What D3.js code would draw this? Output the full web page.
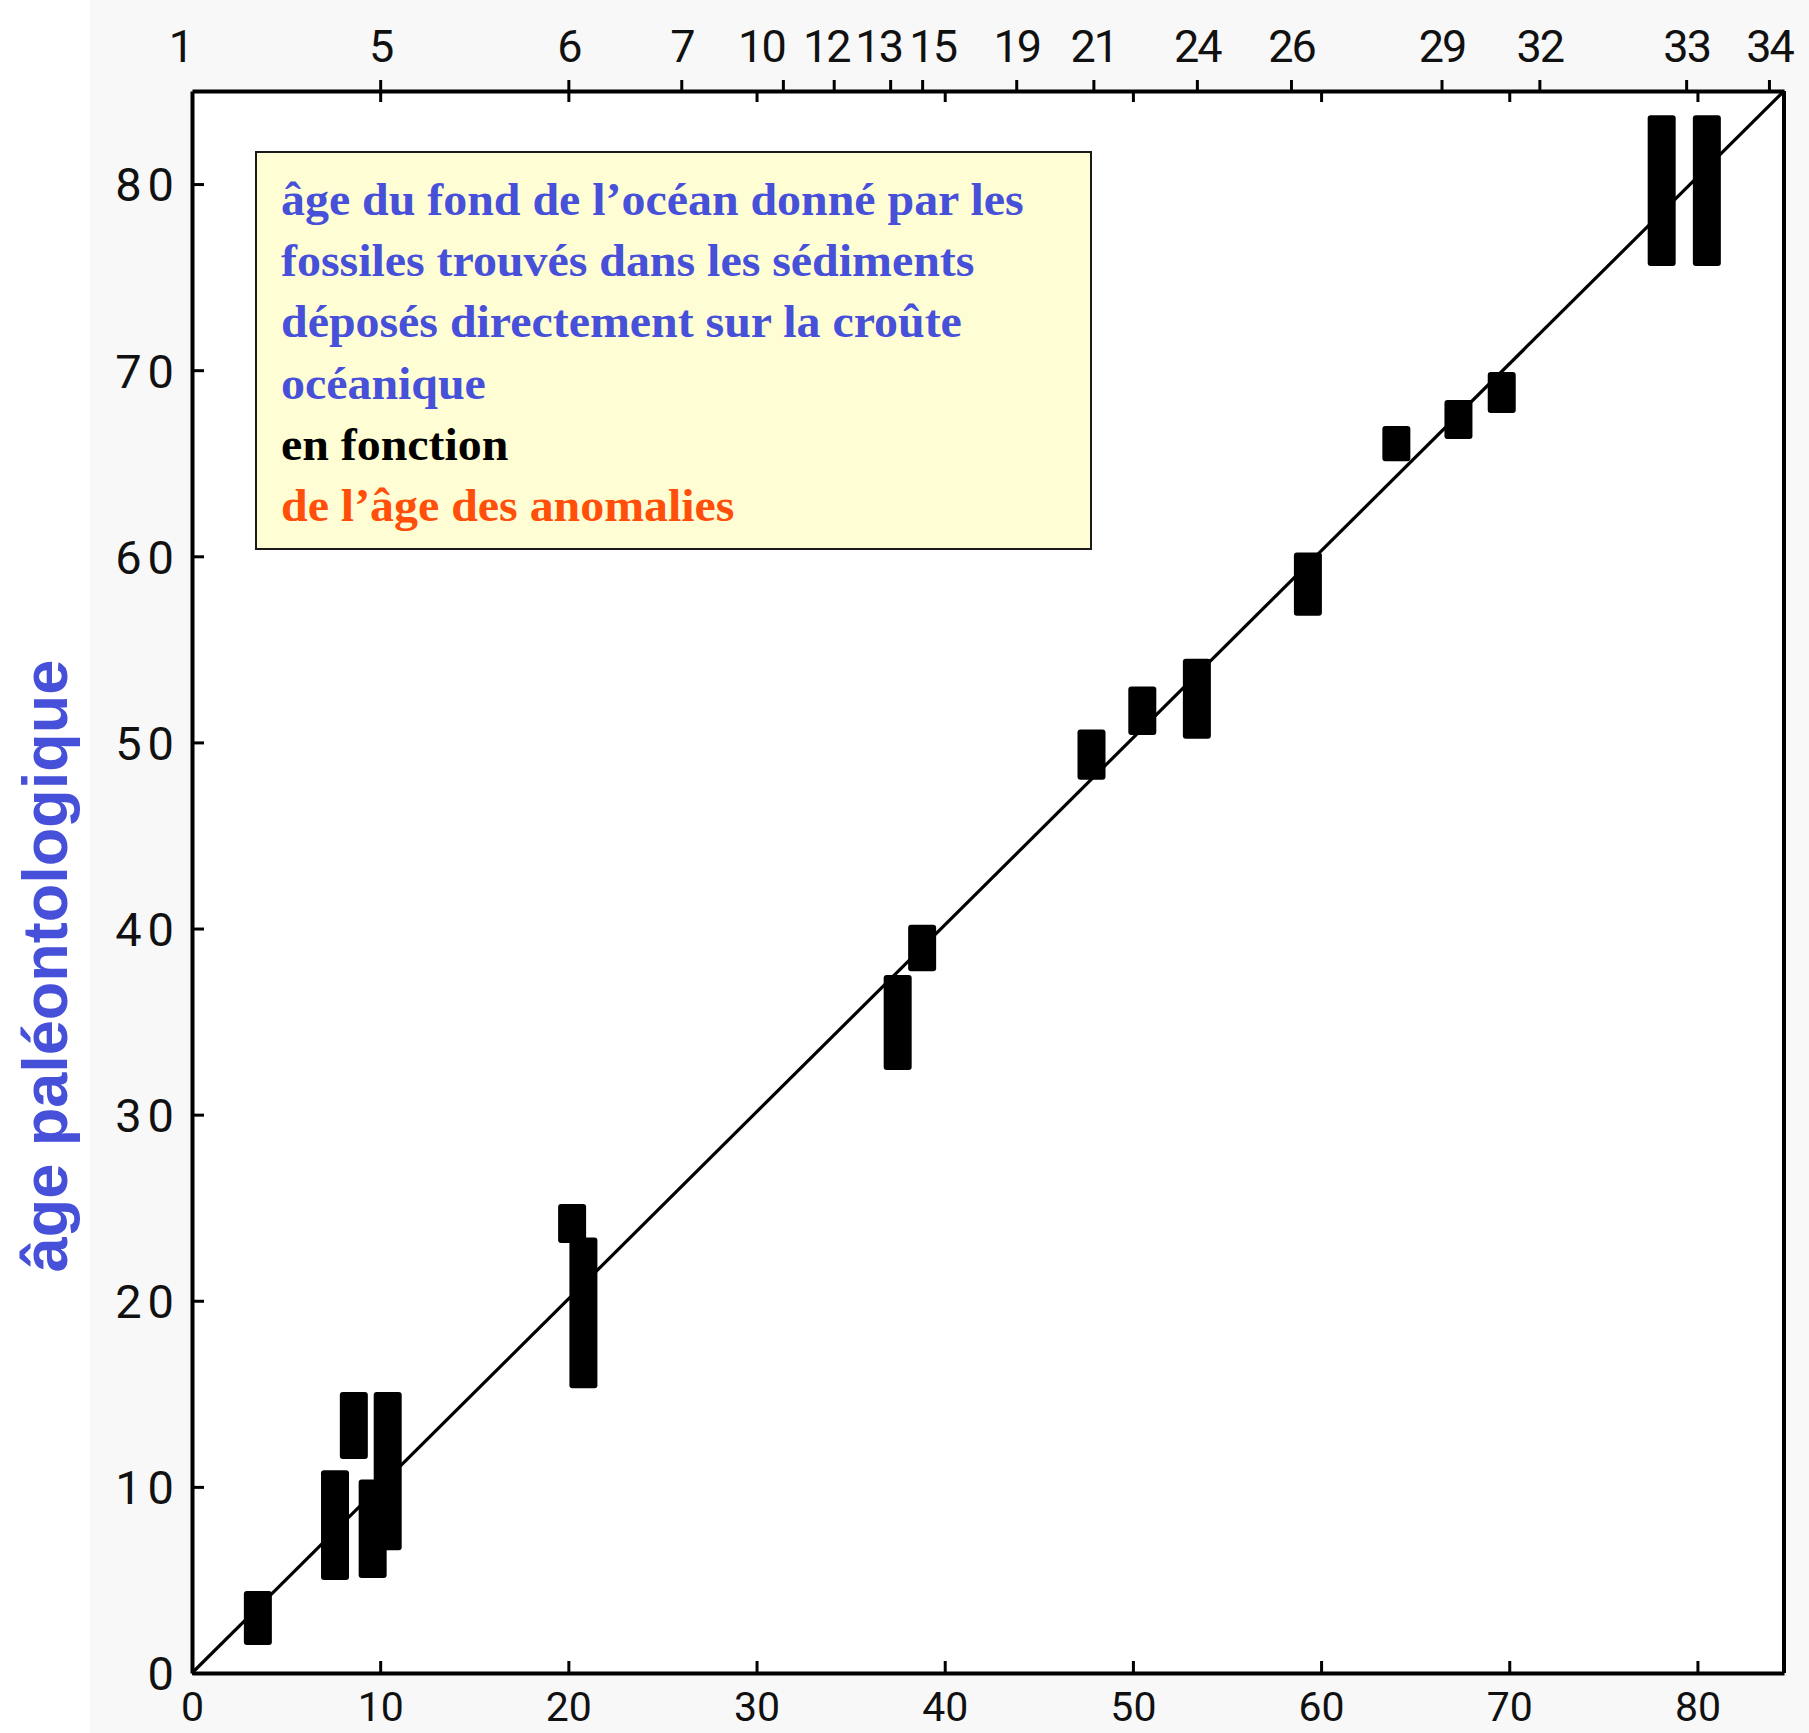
<!DOCTYPE html>
<html>
<head>
<meta charset="utf-8">
<script src="https://cdn.jsdelivr.net/npm/d3@7"></script>
<style>
  body { margin: 0; background: #fff; }
  .tick text { font-family: Roboto, "DejaVu Sans", sans-serif; fill: #111; }
</style>
</head>
<body>
<div id="chart"></div>
<script>
// magnetic anomaly numbers and their ages (Ma), top axis
var anomalyNames = ["1","5","6","7","10","12","13","15","19","21","24","26","29","32","33","34"];
var anomalyAges  = [0, 10, 20, 26, 31.4, 34.1, 37.1, 38.8, 43.8, 47.9, 53.4, 58.4, 66.4, 71.6, 79.4, 83.8];

// one entry per sample: age of the anomaly (x) and fossil age range (y low..high)
var sampleAge  = [3.5, 7.6, 8.6, 9.6, 10.4, 20.2, 20.8, 37.5, 38.8, 47.8, 50.5, 53.4, 59.3, 64.0, 67.3, 69.6, 78.1, 80.5];
var fossilLow  = [1.5, 5.0, 11.5, 5.1, 6.6, 23.1, 15.3, 32.4, 37.7, 48.0, 50.4, 50.2, 56.8, 65.1, 66.3, 67.7, 75.6, 75.6];
var fossilHigh = [4.4, 10.9, 15.1, 10.4, 15.1, 25.2, 23.4, 37.5, 40.2, 50.7, 53.0, 54.5, 60.2, 67.0, 68.4, 69.9, 83.7, 83.7];

var xTicks = [0, 10, 20, 30, 40, 50, 60, 70, 80];
var yTicks = [0, 10, 20, 30, 40, 50, 60, 70, 80];

// 1:1 line, corner to corner
var fitLine = [[0, 0], [84.6, 85]];

var boxLines = [
  "âge du fond de l’océan donné par les",
  "fossiles trouvés dans les sédiments",
  "déposés directement sur la croûte",
  "océanique",
  "en fonction",
  "de l’âge des anomalies"
];
var boxColors = ["#4650d8", "#4650d8", "#4650d8", "#4650d8", "#000000", "#ff4f0a"];

// small horizontal shifts of crowded top labels (px)
var topLabelShift = { "1": -12, "10": -22, "12": -8, "13": -12, "15": 10 };

var W = 1809, H = 1733;
var pL = 192, pR = 1784, pT = 91, pB = 1673;

var svg = d3.select("#chart").append("svg")
  .attr("width", W)
  .attr("height", H);

// faint scanned-paper tone
svg.append("rect")
  .attr("x", 90).attr("y", 0)
  .attr("width", W - 90).attr("height", H)
  .attr("fill", "#f8f8f8");

var x = d3.scaleLinear().domain([0, 84.6]).range([pL, pR]);
var y = d3.scaleLinear().domain([0, 85]).range([pB, pT]);

svg.append("rect")
  .attr("x", pL).attr("y", pT)
  .attr("width", pR - pL).attr("height", pB - pT)
  .attr("fill", "#fff");

// bottom axis
var gx = svg.append("g")
  .attr("transform", "translate(0," + pB + ")")
  .call(d3.axisBottom(x).tickValues(xTicks).tickSize(-12).tickSizeOuter(0).tickPadding(19));
gx.selectAll("text").style("font-size", "41px");

// left axis
var gy = svg.append("g")
  .attr("transform", "translate(" + pL + ",0)")
  .call(d3.axisLeft(y).tickValues(yTicks).tickSize(-12).tickSizeOuter(0).tickPadding(12));
gy.selectAll("text").style("font-size", "47px").style("letter-spacing", "6px").attr("dy", "0.36em");

// top axis: anomaly numbers
var gt = svg.append("g")
  .attr("transform", "translate(0," + pT + ")")
  .call(d3.axisTop(x).tickValues(anomalyAges)
    .tickFormat(function(d, i) { return anomalyNames[i]; })
    .tickSize(11).tickSizeOuter(0).tickPadding(18));
gt.selectAll("text")
  .style("font-size", "45px")
  .style("letter-spacing", "-2px")
  .attr("dx", function() { return topLabelShift[this.textContent] || 0; });
gt.selectAll(".tick").filter(function(d) { return d === 0; }).select("line").remove();

// top axis: inner ticks every 10 Ma
svg.append("g")
  .attr("transform", "translate(0," + pT + ")")
  .call(d3.axisTop(x).tickValues(xTicks.slice(1)).tickSize(-11).tickSizeOuter(0).tickFormat(""))
  .select(".domain").remove();

// right frame
svg.append("line")
  .attr("x1", pR).attr("x2", pR)
  .attr("y1", pT).attr("y2", pB)
  .attr("stroke", "#000").attr("stroke-width", 4);

svg.selectAll(".domain").attr("stroke", "#000").attr("stroke-width", 4);
svg.selectAll(".tick line").attr("stroke", "#000").attr("stroke-width", 3);

// 1:1 line
svg.append("path")
  .datum(fitLine)
  .attr("d", d3.line().x(function(d) { return x(d[0]); }).y(function(d) { return y(d[1]); }))
  .attr("stroke", "#000")
  .attr("stroke-width", 3.2)
  .attr("fill", "none");

// samples
var barW = 28;
svg.selectAll("rect.sample")
  .data(sampleAge)
  .enter()
  .append("rect")
  .attr("class", "sample")
  .attr("x", function(d) { return x(d) - barW / 2; })
  .attr("y", function(d, i) { return y(fossilHigh[i]); })
  .attr("width", barW)
  .attr("height", function(d, i) { return y(fossilLow[i]) - y(fossilHigh[i]); })
  .attr("rx", 3)
  .attr("fill", "#000");

// explanation box
svg.append("rect")
  .attr("x", 256).attr("y", 152)
  .attr("width", 835).attr("height", 397)
  .attr("fill", "#fffdd3")
  .attr("stroke", "#1a1a1a")
  .attr("stroke-width", 2);

var tg = svg.append("g");
var txt = tg.selectAll("text")
  .data(boxLines)
  .enter()
  .append("text")
  .attr("x", 0)
  .attr("y", function(d, i) { return 215 + i * 61.2; })
  .style("font-family", "'Liberation Serif', 'Times New Roman', serif")
  .style("font-weight", "bold")
  .style("font-size", "46px")
  .attr("fill", function(d, i) { return boxColors[i]; })
  .text(function(d) { return d; });
var w0 = txt.node().getComputedTextLength();
tg.attr("transform", "translate(281,0) scale(" + (743 / w0) + ",1)");

// y label
svg.append("text")
  .attr("transform", "translate(67,966) rotate(-90)")
  .attr("text-anchor", "middle")
  .style("font-family", "'Liberation Sans', Arial, sans-serif")
  .style("font-weight", "bold")
  .style("font-size", "63px")
  .attr("fill", "#4650d8")
  .text("âge paléontologique");
</script>
</body>
</html>
